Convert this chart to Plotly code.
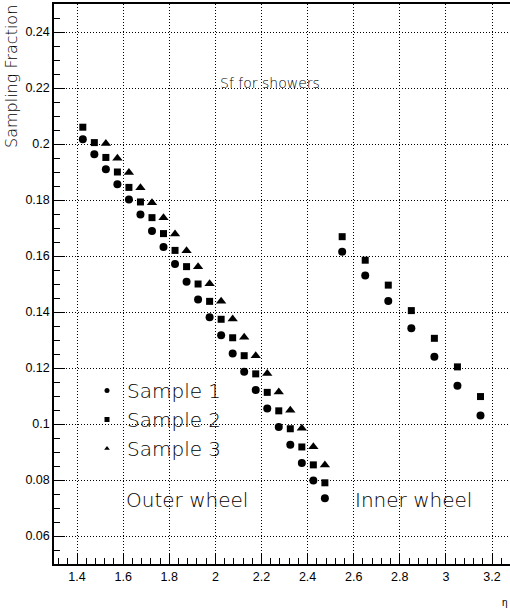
import plotly.graph_objects as go

# ---- data ----
eta_outer_12 = [1.425, 1.475, 1.525, 1.575, 1.625, 1.675, 1.725, 1.775, 1.825, 1.875, 1.925,
                1.975, 2.025, 2.075, 2.125, 2.175, 2.225, 2.275, 2.325, 2.375, 2.425, 2.475]
eta_outer_3 = [1.525, 1.575, 1.625, 1.675, 1.725, 1.775, 1.825, 1.875, 1.925, 1.975,
               2.025, 2.075, 2.125, 2.175, 2.225, 2.275, 2.325, 2.375, 2.425, 2.475]
eta_inner = [2.55, 2.65, 2.75, 2.85, 2.95, 3.05, 3.15]

s1_outer = [0.2017, 0.1963, 0.1910, 0.1856, 0.1802, 0.1748, 0.1689, 0.1632, 0.1571, 0.1508, 0.1445,
            0.1381, 0.1317, 0.1252, 0.1187, 0.1121, 0.1055, 0.0989, 0.0926, 0.0861, 0.0798, 0.0735]
s1_inner = [0.1615, 0.1530, 0.1439, 0.1342, 0.1240, 0.1137, 0.1030]

s2_outer = [0.2060, 0.2005, 0.1952, 0.1900, 0.1845, 0.1793, 0.1737, 0.1680, 0.1620, 0.1562, 0.1500,
            0.1438, 0.1374, 0.1308, 0.1244, 0.1179, 0.1113, 0.1047, 0.0983, 0.0918, 0.0854, 0.0790]
s2_inner = [0.1669, 0.1585, 0.1496, 0.1405, 0.1306, 0.1204, 0.1098]

s3_outer = [0.2002, 0.1949, 0.1898, 0.1844, 0.1790, 0.1737, 0.1679, 0.1619, 0.1562, 0.1501,
            0.1438, 0.1375, 0.1310, 0.1244, 0.1180, 0.1114, 0.1049, 0.0985, 0.0919, 0.0854]

series_names = ["Sample 1", "Sample 2", "Sample 3"]
symbols = ["circle", "square", "triangle-up"]

THIN = "DejaVu Sans"
TW = 200
fig = go.Figure()

# data traces
fig.add_trace(go.Scatter(x=eta_outer_12 + eta_inner, y=s1_outer + s1_inner, mode="markers",
                         marker=dict(symbol="circle", size=8, color="black"), showlegend=False))
fig.add_trace(go.Scatter(x=eta_outer_12 + eta_inner, y=s2_outer + s2_inner, mode="markers",
                         marker=dict(symbol="square", size=7, color="black"), showlegend=False))
fig.add_trace(go.Scatter(x=eta_outer_3, y=s3_outer, mode="markers",
                         marker=dict(symbol="triangle-up", size=9, color="black"), showlegend=False))

# legend-only entries (smaller markers)
for name, sym in zip(series_names, symbols):
    fig.add_trace(go.Scatter(x=[None], y=[None], mode="markers", name=name,
                             marker=dict(symbol=sym, size=5, color="black")))

grid = dict(showgrid=True, gridcolor="black", gridwidth=1, griddash="1px,2px",
            showline=True, linecolor="black", linewidth=1.5,
            ticks="inside", tickcolor="black", tickwidth=1, zeroline=False,
            tickfont=dict(family="Liberation Sans", size=12.5, color="black"))

fig.update_xaxes(range=[1.3, 3.278], dtick=0.2, tick0=1.4, ticklen=11, mirror=True,
                 minor=dict(dtick=0.04, tick0=1.4, ticklen=6, ticks="inside", tickcolor="black",
                            showgrid=False),
                 **grid)
fig.update_yaxes(range=[0.05, 0.25], dtick=0.02, tick0=0.06, ticklen=11, mirror=False,
                 minor=dict(dtick=0.005, tick0=0.06, ticklen=6, ticks="inside", tickcolor="black",
                            showgrid=False),
                 **grid)

fig.add_annotation(text="Sf for showers", xref="paper", yref="paper", x=(218 - 54) / 456,
                   y=(564 - 83) / 560, showarrow=False,
                   font=dict(family=THIN, size=14, color="black", weight=TW),
                   xanchor="left", yanchor="middle")
fig.add_annotation(text="Outer wheel", xref="paper", yref="paper", x=(124 - 54) / 456,
                   y=(564 - 500) / 560, showarrow=False,
                   font=dict(family=THIN, size=20, color="black", weight=TW),
                   xanchor="left", yanchor="middle")
fig.add_annotation(text="Inner wheel", xref="paper", yref="paper", x=(353 - 54) / 456,
                   y=(564 - 500) / 560, showarrow=False,
                   font=dict(family=THIN, size=20, color="black", weight=TW),
                   xanchor="left", yanchor="middle")
fig.add_annotation(text="Sampling Fraction", xref="paper", yref="paper", x=0, y=1,
                   xshift=-31, yshift=1, textangle=-90, showarrow=False,
                   font=dict(family=THIN, size=16, color="black", weight=TW),
                   xanchor="right", yanchor="top")
fig.add_annotation(text="η", xref="paper", yref="paper", x=1, y=0, yshift=-38, xshift=0,
                   showarrow=False, font=dict(family="Liberation Sans", size=10, color="black"),
                   xanchor="right", yanchor="middle")

fig.update_layout(
    width=510, height=615,
    margin=dict(l=54, r=0, t=4, b=51),
    paper_bgcolor="white", plot_bgcolor="white",
    legend=dict(x=(87 - 54) / 456, y=(564 - 371) / 560, xanchor="left", yanchor="top",
                bgcolor="rgba(0,0,0,0)", itemwidth=30, tracegroupgap=0,
                font=dict(family=THIN, size=20, color="black", weight=TW)),
)

fig.write_html("out.html")
